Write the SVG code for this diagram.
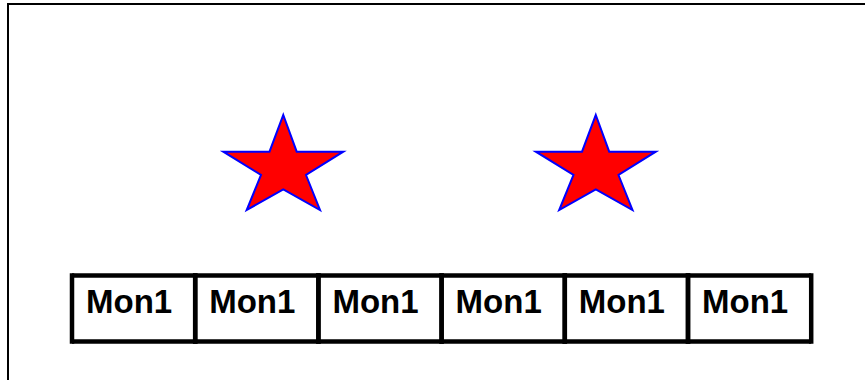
<svg xmlns="http://www.w3.org/2000/svg" width="865" height="380" viewBox="0 0 865 380">
<defs>
<style>
.frame{fill:none;stroke:#000;stroke-width:2}
.star{fill:#ff0000;stroke:#0000ff;stroke-width:2;stroke-linejoin:miter}
.h{stroke:#000;stroke-width:4.5}
.v{stroke:#000;stroke-width:4.5;stroke-linecap:square}
.lbl{font-family:"Liberation Sans",Arial,sans-serif;font-weight:bold;font-size:33px;fill:#000}
</style>
<polygon id="starShape" class="star" points="283.3,115 296.7,151.7 343.3,151.7 306,175 320,210 283.3,189.3 246.7,210 261,175 223.3,151.7 269.5,151.7"/>
<g id="box">
<line class="h" x1="72" y1="275.5" x2="195.2" y2="275.5"/>
<line class="h" x1="72" y1="341.5" x2="195.2" y2="341.5"/>
<line class="v" x1="72" y1="275.5" x2="72" y2="341.5"/>
<line class="v" x1="195.2" y1="275.5" x2="195.2" y2="341.5"/>
<text class="lbl" x="86" y="312.5">Mon1</text>
</g>
</defs>
<rect class="frame" x="8" y="4" width="870" height="390"/>
<g id="star1"><use href="#starShape"/></g>
<g id="star2"><use href="#starShape" transform="translate(312.5,0)"/></g>
<g id="box1"><use href="#box"/></g>
<g id="box2"><use href="#box" transform="translate(123.2,0)"/></g>
<g id="box3"><use href="#box" transform="translate(246.4,0)"/></g>
<g id="box4"><use href="#box" transform="translate(369.6,0)"/></g>
<g id="box5"><use href="#box" transform="translate(492.8,0)"/></g>
<g id="box6"><use href="#box" transform="translate(616,0)"/></g>
<g id="connectors"/>
</svg>
